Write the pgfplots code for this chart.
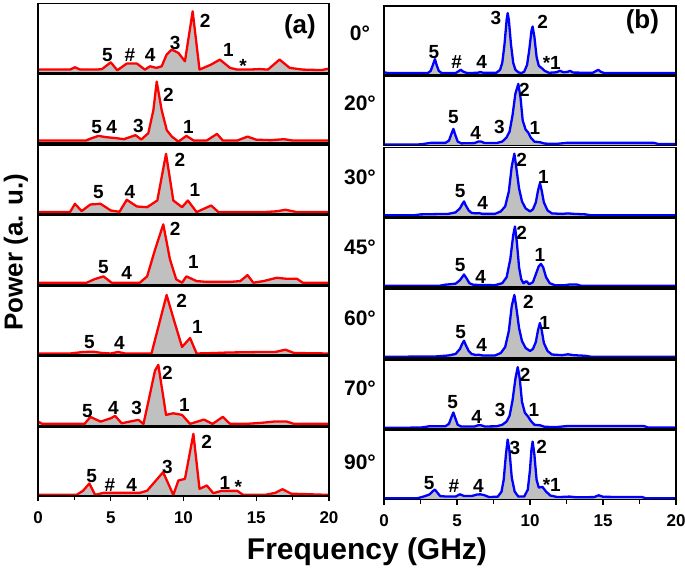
\documentclass[border=0pt]{standalone}
\usepackage{fontspec}
\setmainfont{Liberation Sans}
\usepackage{pgfplots}
\pgfplotsset{compat=1.18}
\definecolor{fillgray}{RGB}{192,192,192}
\newcommand{\lf}{\fontsize{19}{19}\selectfont\bfseries}
\newcommand{\tkf}{\fontsize{17}{17}\selectfont\bfseries}
\pgfplotsset{
  pnl/.style={scale only axis, height=69pt, xmin=0, xmax=20, ymin=0, ymax=69,
    xtick=\empty, ytick=\empty, axis line style={line width=1.5pt}, clip=false,
    anchor=south west, axis on top},
  btm/.style={xtick={0,5,10,15,20}, minor xtick={2.5,7.5,12.5,17.5},
    tick align=outside, xtick pos=left, major tick length=5pt, minor tick length=4pt,
    every tick/.style={line width=1.2pt, black},
    xticklabel style={font=\tkf, yshift=-7pt},
    /pgf/number format/assume math mode=true},
}
% #1 x, #2 y, #3 width, #4 colour, #5 extra axis opts, #6 coordinates, #7 nodes
\newcommand{\panel}[7]{%
\begin{axis}[pnl, width=#3, at={(#1,#2)}, #5]
\addplot[draw=none, fill=fillgray] coordinates {#6} \closedcycle;
\addplot[draw=#4, line width=2.3pt, line join=round] coordinates {#6};
#7
\end{axis}}
\begin{document}
\begin{tikzpicture}
\useasboundingbox (0,0) rectangle (685pt,569pt);
% ---------------- column (a) ----------------
\panel{38pt}{496.4pt}{291pt}{red}{}{
(0,3)(2.2,3)(2.54,5.3)(2.9,3)(4.03,3)(4.4,3.5)(5.0,10.3)(5.45,2.3)(6.1,9)(6.8,9)(7.35,3)(7.7,6.3)(8.15,4.7)(8.5,6.3)(8.84,18)(9.19,23)(9.65,19.7)(10.1,11.3)(10.63,61.3)(11.1,3)(11.9,8)(12.5,13)(13.2,4.7)(13.7,3)(14.5,3)(15.2,3.5)(15.8,3)(16.6,13)(17.3,4.7)(18.2,3)(19.5,2.5)(20,4)
}{
\node[font=\lf] at (axis cs:4.77,17.6) {5};
\node[font=\lf] at (axis cs:6.32,17.6) {\#};
\node[font=\lf] at (axis cs:7.7,17.6) {4};
\node[font=\lf] at (axis cs:9.42,29.3) {3};
\node[font=\lf] at (axis cs:11.48,52) {2};
\node[font=\lf] at (axis cs:13.08,22.6) {1};
\node[font=\lf] at (axis cs:14.1,6.5) {*};
\node[font=\fontsize{26}{26}\selectfont\bfseries] at (axis cs:18.0,45.6) {(a)};
}
\panel{38pt}{425.8pt}{291pt}{red}{}{
(0,2.7)(3.3,2.7)(3.69,5)(4.15,7.3)(4.7,6)(5.4,5)(5.9,4)(6.7,8)(7.1,3.7)(7.58,10)(7.93,33)(8.16,61.6)(8.5,33)(8.85,13)(9.2,6.6)(9.65,1.6)(10.2,7.3)(10.7,2.7)(11.6,2.7)(12.3,9.3)(12.7,2.7)(13.7,2.7)(14.4,6.6)(15.0,3.5)(16.0,3)(16.9,4)(17.5,2.7)(20,2.7)
}{
\node[font=\lf] at (axis cs:4.03,15.9) {5};
\node[font=\lf] at (axis cs:5.06,15.9) {4};
\node[font=\lf] at (axis cs:6.9,17.2) {3};
\node[font=\lf] at (axis cs:8.96,48.2) {2};
\node[font=\lf] at (axis cs:10.33,16.5) {1};
}
\panel{38pt}{355.2pt}{291pt}{red}{}{
(0,1.7)(2.2,1.7)(2.54,10)(3.0,2.7)(3.6,9.3)(4.3,10)(5.0,3.3)(5.6,2)(6.1,14)(6.8,7.3)(7.5,6.6)(8.2,13.3)(8.8,60)(9.3,13.3)(9.9,6.6)(10.3,13.3)(10.9,1.7)(11.4,5)(11.9,8.3)(12.4,1.7)(13.7,1.7)(15.5,1.7)(16.4,2.5)(17.0,4)(17.8,1.7)(20,1.7)
}{
\node[font=\lf] at (axis cs:4.15,22.1) {5};
\node[font=\lf] at (axis cs:6.32,22.1) {4};
\node[font=\lf] at (axis cs:9.76,53.8) {2};
\node[font=\lf] at (axis cs:10.79,23.8) {1};
}
\panel{38pt}{284.6pt}{291pt}{red}{}{
(0,1.7)(3.35,1.7)(3.9,5.3)(4.5,8)(5.06,1.7)(7.0,1.7)(7.5,8)(8.05,35)(8.61,60)(9.07,25)(9.5,5)(9.9,1.7)(10.2,8)(10.9,3.3)(11.6,2.5)(13.2,2.5)(13.9,3.3)(14.4,9.3)(14.8,1.7)(15.5,3.3)(16.4,6.6)(17.1,5.6)(17.8,5.6)(18.2,1.7)(20,1.7)
}{
\node[font=\lf] at (axis cs:4.49,17.7) {5};
\node[font=\lf] at (axis cs:6.1,11.1) {4};
\node[font=\lf] at (axis cs:9.42,55.1) {2};
\node[font=\lf] at (axis cs:10.68,22.7) {1};
}
\panel{38pt}{214pt}{291pt}{red}{}{
(0,1.5)(2.2,1.5)(3.1,3)(3.8,3.3)(4.4,2)(5.0,1.5)(5.5,3)(6.0,1.5)(7.8,1.5)(8.27,28)(8.84,60)(9.3,37)(9.9,8)(10.45,17)(10.9,1.5)(12.2,2)(13.1,2.5)(15.4,3)(16.3,3)(17.0,5.3)(17.6,2)(20,1.5)
}{
\node[font=\lf] at (axis cs:3.53,13.3) {5};
\node[font=\lf] at (axis cs:5.59,11.7) {4};
\node[font=\lf] at (axis cs:9.87,54.3) {2};
\node[font=\lf] at (axis cs:10.95,27.7) {1};
}
\panel{38pt}{143.4pt}{291pt}{red}{}{
(0,4)(0.3,1.7)(3.2,1.7)(3.6,8.7)(4.3,4)(5.0,7.3)(5.3,9.7)(5.75,2.3)(6.3,4)(6.9,5.7)(7.25,1.7)(7.6,25)(8.04,55)(8.27,60.7)(8.8,10.7)(9.3,12.3)(9.9,10.7)(10.45,1.7)(11.4,6)(12.0,1.7)(12.7,8.7)(13.2,1.7)(14.3,1.7)(15.3,2.7)(16.2,4)(17.1,4)(17.6,1.7)(20,1.7)
}{
\node[font=\lf] at (axis cs:3.39,14.6) {5};
\node[font=\lf] at (axis cs:5.18,17.3) {4};
\node[font=\lf] at (axis cs:6.78,17.3) {3};
\node[font=\lf] at (axis cs:8.89,52.3) {2};
\node[font=\lf] at (axis cs:10.06,20.6) {1};
}
\panel{38pt}{72.8pt}{291pt}{red}{btm}{
(0,1.3)(2.65,1.3)(3.1,5.5)(3.53,12.7)(3.92,1.3)(4.5,3.3)(7.0,3.3)(7.5,5.5)(8.6,24)(9.3,1.3)(9.65,15.7)(10.1,17.3)(10.68,62.3)(11.1,7.3)(11.6,10.7)(12.05,3)(12.6,5.3)(13.7,5.3)(14.1,1.3)(15.6,1.3)(16.3,3.3)(16.8,7)(17.4,2.5)(20,1.3)
}{
\node[font=\lf] at (axis cs:3.69,20.2) {5};
\node[font=\lf] at (axis cs:4.95,11.2) {\#};
\node[font=\lf] at (axis cs:6.44,11.2) {4};
\node[font=\lf] at (axis cs:8.89,29.5) {3};
\node[font=\lf] at (axis cs:11.59,54.5) {2};
\node[font=\lf] at (axis cs:12.85,13.5) {1};
\node[font=\lf] at (axis cs:13.77,9) {*};
}
% ---------------- column (b) ----------------
\panel{384pt}{494.2pt}{292pt}{blue}{}{
(0,2.5)(0.3,1.7)(3.0,1.7)(3.2,4)(3.35,10)(3.49,15.7)(3.6,10)(3.75,4)(3.95,1.7)(4.9,1.7)(5.1,3.5)(5.25,5)(5.45,3)(5.7,1.7)(6.4,2)(6.6,2.7)(6.8,2)(7.7,2)(7.95,5)(8.1,12)(8.25,30)(8.4,55)(8.47,61.7)(8.55,55)(8.7,30)(8.85,12)(9.0,5)(9.2,2.5)(9.4,1.7)(9.6,3)(9.8,10)(9.95,25)(10.1,44)(10.18,48.3)(10.3,38)(10.45,18)(10.6,9)(10.8,6.7)(11.0,4)(11.3,2)(11.8,2.5)(12.05,4)(12.3,2.5)(12.6,3)(12.74,4)(12.95,2.2)(14.3,2)(14.55,4)(14.68,5)(14.85,3)(15.1,1.7)(20,1.7)
}{
\node[font=\lf] at (axis cs:3.42,23.1) {5};
\node[font=\lf] at (axis cs:4.98,13.1) {\#};
\node[font=\lf] at (axis cs:6.69,13.1) {4};
\node[font=\lf] at (axis cs:7.67,56.5) {3};
\node[font=\lf] at (axis cs:10.87,53.1) {2};
\node[font=\lf] at (axis cs:11.49,11.5) {*1};
\node[font=\fontsize{26}{26}\selectfont\bfseries] at (axis cs:17.7,53) {(b)};
}
\panel{384pt}{423.4pt}{292pt}{blue}{}{
(0,1)(2.5,1.2)(3.2,2.7)(4.2,2.7)(4.45,5)(4.6,11)(4.75,16.7)(4.9,10)(5.05,4)(5.3,2.2)(6.2,2.5)(6.45,4)(6.65,4)(6.9,2.5)(7.7,2.5)(8.1,4)(8.4,8.3)(8.6,14)(8.8,30)(9.0,52)(9.2,61.7)(9.35,48)(9.5,25)(9.7,16)(9.88,13)(10.05,8)(10.3,4)(10.7,3.3)(11.0,2)(11.8,1.7)(12.5,2.7)(14,2.7)(16,2.7)(18.5,2.7)(18.8,1.5)(20,1.5)
}{
\node[font=\lf] at (axis cs:4.75,28.9) {5};
\node[font=\lf] at (axis cs:6.28,12.3) {4};
\node[font=\lf] at (axis cs:7.9,18.9) {3};
\node[font=\lf] at (axis cs:9.61,55.6) {2};
\node[font=\lf] at (axis cs:10.34,17.3) {1};
}
\panel{384pt}{352.6pt}{292pt}{blue}{}{
(0,1)(2.0,1)(2.5,2)(4.4,2.5)(4.9,4)(5.2,8)(5.35,12)(5.48,15)(5.6,11)(5.8,6)(6.0,3.5)(6.3,3)(6.5,3.3)(6.75,2.5)(7.6,2.5)(8.0,5)(8.3,10)(8.55,25)(8.75,50)(8.93,62.7)(9.05,50)(9.25,28)(9.45,15)(9.7,8)(10.0,5)(10.2,7)(10.4,14)(10.55,26)(10.68,33.3)(10.8,26)(10.95,14)(11.2,6)(11.5,3)(12.2,2.5)(12.6,3)(13,2.5)(13.8,2)(14.2,1)(20,1)
}{
\node[font=\lf] at (axis cs:5.21,25.7) {5};
\node[font=\lf] at (axis cs:6.76,13.7) {4};
\node[font=\lf] at (axis cs:9.43,56.4) {2};
\node[font=\lf] at (axis cs:10.91,39.1) {1};
}
\panel{384pt}{281.8pt}{292pt}{blue}{}{
(0,1.4)(3.8,1.4)(4.2,2.5)(4.9,3.5)(5.2,7)(5.35,10)(5.48,12.7)(5.65,9)(5.85,4)(6.1,2.5)(6.5,2.2)(7.6,2)(8.1,4)(8.4,10)(8.65,28)(8.85,52)(8.97,60.7)(9.1,45)(9.25,20)(9.4,8)(9.55,4)(9.75,6)(9.95,3)(10.2,5)(10.45,15)(10.6,21)(10.75,23.3)(10.9,20)(11.1,10)(11.35,4)(11.7,2)(12.4,2)(12.7,2.7)(13.2,2.7)(13.5,1.4)(20,1.4)
}{
\node[font=\lf] at (axis cs:5.21,22.2) {5};
\node[font=\lf] at (axis cs:6.62,9.9) {4};
\node[font=\lf] at (axis cs:9.43,54.5) {2};
\node[font=\lf] at (axis cs:10.68,32.2) {1};
}
\panel{384pt}{211pt}{292pt}{blue}{}{
(0,1.2)(3.5,1.5)(4.4,2.5)(4.9,4)(5.2,9)(5.35,14)(5.48,17.3)(5.6,13)(5.8,7)(6.0,4)(6.3,3)(6.5,3.3)(6.75,2.5)(7.6,2.5)(8.0,5)(8.3,11)(8.55,27)(8.75,52)(8.93,63)(9.05,52)(9.25,30)(9.45,17)(9.7,10)(10.0,7)(10.2,9)(10.4,16)(10.55,28)(10.68,35)(10.8,28)(10.95,15)(11.2,7)(11.5,3.5)(12.2,2.8)(12.6,3.7)(13,2.8)(13.8,2.2)(14.2,1.2)(20,1.2)
}{
\node[font=\lf] at (axis cs:5.25,26.3) {5};
\node[font=\lf] at (axis cs:6.69,13) {4};
\node[font=\lf] at (axis cs:9.89,56.3) {2};
\node[font=\lf] at (axis cs:11.0,34.7) {1};
}
\panel{384pt}{140.2pt}{292pt}{blue}{}{
(0,1)(2.5,1.2)(3.1,2.5)(4.2,2.5)(4.45,5)(4.6,11)(4.75,16.3)(4.9,10)(5.05,4)(5.3,2.2)(6.2,2.3)(6.45,3.5)(6.65,3.5)(6.9,2.3)(7.7,2.5)(8.1,4)(8.4,7.3)(8.6,13)(8.8,28)(9.0,50)(9.16,61.7)(9.3,50)(9.45,27)(9.65,16)(9.88,12)(10.05,8)(10.3,4)(10.7,3.5)(11.0,2)(11.8,1.7)(12.5,2.7)(14,2.7)(16,2.7)(17.8,2.7)(18.1,1.3)(20,1.3)
}{
\node[font=\lf] at (axis cs:4.7,27.1) {5};
\node[font=\lf] at (axis cs:6.35,12.1) {4};
\node[font=\lf] at (axis cs:7.95,18.8) {3};
\node[font=\lf] at (axis cs:9.66,53.8) {2};
\node[font=\lf] at (axis cs:10.27,18.8) {1};
}
\panel{384pt}{69.4pt}{292pt}{blue}{btm}{
(0,1.4)(2.3,1.4)(2.7,3)(3.1,5)(3.35,8.5)(3.49,10)(3.65,7)(3.85,3.5)(4.3,3)(4.9,3)(5.2,5.3)(5.5,3.5)(6.0,3.5)(6.35,5)(6.6,5.3)(6.85,4.5)(7.2,2.5)(7.8,3)(8.05,8)(8.2,20)(8.35,45)(8.47,60)(8.6,48)(8.75,22)(8.95,8)(9.2,3)(9.6,3)(9.85,10)(10.0,30)(10.1,50)(10.18,58)(10.3,45)(10.45,20)(10.6,12)(10.85,12.7)(11.1,8)(11.4,4)(11.9,2.5)(12.7,3)(13.2,2.3)(14.4,2.5)(14.7,4.3)(15,2.8)(16.5,2.5)(17.7,2.5)(17.9,1.4)(20,1.4)
}{
\node[font=\lf] at (axis cs:3.1,16.3) {5};
\node[font=\lf] at (axis cs:4.79,13.6) {\#};
\node[font=\lf] at (axis cs:6.46,13.6) {4};
\node[font=\lf] at (axis cs:8.97,51.3) {3};
\node[font=\lf] at (axis cs:10.8,52.9) {2};
\node[font=\lf] at (axis cs:11.49,14.6) {*1};
}
% ---------------- angle labels ----------------
\begin{scope}[every node/.style={font=\fontsize{21}{21}\selectfont\bfseries}]
\node at (360pt,536pt) {0°};
\node at (360pt,466pt) {20°};
\node at (360pt,392pt) {30°};
\node at (360pt,322pt) {45°};
\node at (360pt,251pt) {60°};
\node at (360pt,181pt) {70°};
\node at (360pt,107pt) {90°};
\end{scope}
% ---------------- axis titles ----------------
\node[rotate=90, font=\fontsize{26}{26}\selectfont\bfseries] at (16pt,317pt) {Power (a. u.)};
\node[anchor=base, font=\fontsize{30}{30}\selectfont\bfseries] at (367pt,9pt) {Frequency (GHz)};
\end{tikzpicture}
\end{document}
